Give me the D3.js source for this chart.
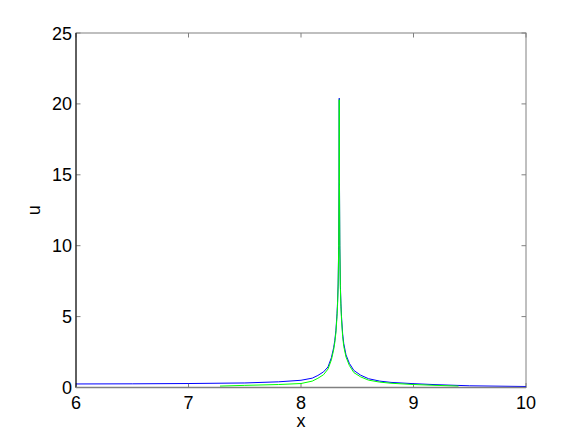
<!DOCTYPE html>
<html lang="en">
<head>
  <meta charset="UTF-8">
  <title>u vs x</title>
  <script src="https://d3js.org/d3.v7.min.js"></script>
  <style>
    body { margin: 0; background: #fff; }
    svg { display: block; font-family: "Liberation Sans", Arial, sans-serif; }
  </style>
</head>
<body>
  <svg id="chart" width="581" height="436"></svg>
  <script>
    // blue curve (x, u)
    const blueX = [6.0, 6.5, 7.0, 7.5, 7.8, 8.0, 8.1, 8.15, 8.2, 8.24, 8.27, 8.29, 8.30, 8.31, 8.32, 8.325, 8.33, 8.335, 8.338, 8.340,
                   8.342, 8.345, 8.35, 8.355, 8.36, 8.37, 8.38, 8.40, 8.43, 8.47, 8.53, 8.6, 8.7, 8.8, 9.0, 9.2, 9.5, 10.0];
    const blueU = [0.25, 0.26, 0.28, 0.32, 0.40, 0.51, 0.66, 0.85, 1.1, 1.45, 2.1, 2.8, 3.3, 4.0, 5.2, 6.0, 7.3, 10.0, 14.5, 20.4,
                   14.5, 10.0, 7.2, 5.9, 5.0, 3.8, 3.1, 2.3, 1.7, 1.2, 0.87, 0.62, 0.45, 0.36, 0.27, 0.2, 0.12, 0.07];

    // green curve (x, u)
    const greenX = [7.28, 7.5, 7.8, 8.0, 8.1, 8.15, 8.2, 8.24, 8.27, 8.29, 8.30, 8.31, 8.32, 8.325, 8.33, 8.335, 8.338, 8.340,
                    8.342, 8.345, 8.35, 8.355, 8.36, 8.37, 8.38, 8.40, 8.43, 8.47, 8.53, 8.6, 8.7, 8.8, 9.0, 9.2, 9.4];
    const greenU = [0.10, 0.15, 0.21, 0.28, 0.45, 0.65, 0.9, 1.3, 1.95, 2.65, 3.15, 3.85, 5.0, 5.8, 7.1, 9.8, 14.3, 20.3,
                    14.3, 9.8, 7.0, 5.7, 4.8, 3.6, 2.9, 2.15, 1.55, 1.05, 0.75, 0.52, 0.38, 0.3, 0.21, 0.15, 0.1];

    const xTicks = [6, 7, 8, 9, 10];
    const yTicks = [0, 5, 10, 15, 20, 25];

    const pL = 76, pR = 526, pT = 33, pB = 387.5;
    const svg = d3.select("#chart");

    const x = d3.scaleLinear().domain([6, 10]).range([pL, pR]);
    const y = d3.scaleLinear().domain([0, 25]).range([pB, pT]);

    const frame = "#808080";

    // box
    svg.append("rect")
      .attr("x", pL).attr("y", pT)
      .attr("width", pR - pL).attr("height", pB - pT)
      .attr("fill", "none").attr("stroke", frame).attr("stroke-width", 1);

    // ticks, inward, on all four sides
    const tl = 4.5;
    const g = svg.append("g").attr("stroke", frame).attr("stroke-width", 1);
    xTicks.forEach(t => {
      g.append("line").attr("x1", x(t)).attr("x2", x(t)).attr("y1", pB).attr("y2", pB - tl);
      g.append("line").attr("x1", x(t)).attr("x2", x(t)).attr("y1", pT).attr("y2", pT + tl);
    });
    yTicks.forEach(t => {
      g.append("line").attr("x1", pL).attr("x2", pL + tl).attr("y1", y(t)).attr("y2", y(t));
      g.append("line").attr("x1", pR).attr("x2", pR - tl).attr("y1", y(t)).attr("y2", y(t));
    });

    // curves
    const line = d3.line().x(d => x(d[0])).y(d => y(d[1]));
    const blue = blueX.map((v, i) => [v, blueU[i]]);
    const green = greenX.map((v, i) => [v, greenU[i]]);

    svg.append("path").attr("d", line(blue))
      .attr("fill", "none").attr("stroke", "#0000ff").attr("stroke-width", 1);
    svg.append("path").attr("d", line(green))
      .attr("fill", "none").attr("stroke", "#00ff00").attr("stroke-width", 1);

    // left axis line drawn dark
    svg.append("line")
      .attr("x1", pL).attr("x2", pL).attr("y1", pT).attr("y2", pB)
      .attr("stroke", "#000").attr("stroke-width", 1);
    svg.append("line")
      .attr("x1", pL).attr("x2", pR).attr("y1", pB).attr("y2", pB)
      .attr("stroke", frame).attr("stroke-width", 1.5);

    // tick labels
    svg.selectAll(".xl").data(xTicks).enter().append("text")
      .attr("x", d => x(d)).attr("y", pB + 21)
      .attr("text-anchor", "middle").attr("font-size", "18px")
      .text(d => d);
    svg.selectAll(".yl").data(yTicks).enter().append("text")
      .attr("x", pL - 4).attr("y", d => y(d) + 6.5)
      .attr("text-anchor", "end").attr("font-size", "18px")
      .text(d => d);

    // axis labels
    svg.append("text")
      .attr("x", (pL + pR) / 2).attr("y", 427)
      .attr("text-anchor", "middle").attr("font-size", "18px")
      .text("x");
    svg.append("text")
      .attr("transform", `translate(40,${(pT + pB) / 2}) rotate(-90)`)
      .attr("text-anchor", "middle").attr("font-size", "18px")
      .text("u");
  </script>
</body>
</html>
